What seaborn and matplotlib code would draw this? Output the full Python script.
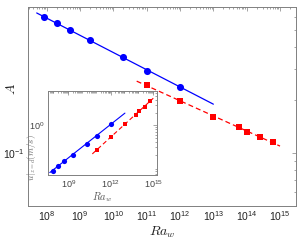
import numpy as np
import pandas as pd
import matplotlib
matplotlib.use('Agg')
import matplotlib.pyplot as plt
import matplotlib.ticker as mticker
import seaborn as sns

# Values
ra_lab = [8e7, 2e8, 5e8, 2e9, 2e10, 1e11, 1e12]
a_lab = [0.60, 0.55, 0.50, 0.44, 0.352, 0.295, 0.239]
u_lab = [0.084, 0.110, 0.141, 0.202, 0.369, 0.562, 1.07]

ra_field = [1e11, 1e12, 1e13, 6e13, 1e14, 2.5e14, 6e14]
a_field = [0.245, 0.198, 0.160, 0.140, 0.132, 0.124, 0.116]
u_field = [0.257, 0.532, 1.09, 1.78, 2.21, 2.80, 3.89]

# range over which the power-law fits are drawn
fit_lab_range = [5e7, 1e13]
fit_field_range = [5e10, 1e15]

main_xticks = [1e8, 1e9, 1e10, 1e11, 1e12, 1e13, 1e14, 1e15]
inset_xticks = [1e9, 1e12, 1e15]

lab = pd.DataFrame({'Ra': ra_lab, 'A': a_lab, 'u': u_lab})
field = pd.DataFrame({'Ra': ra_field, 'A': a_field, 'u': u_field})


def power_fit(x, y, xr):
    p = np.polyfit(np.log10(x), np.log10(y), 1)
    xx = np.logspace(np.log10(xr[0]), np.log10(xr[1]), 50)
    return pd.DataFrame({'Ra': xx, 'fit': 10 ** np.polyval(p, np.log10(xx))})


def style_axes(ax, fs, labcol):
    ax.set_xscale('log')
    ax.set_yscale('log')
    for s in ax.spines.values():
        s.set_color('#808080')
        s.set_linewidth(0.7)
    ax.tick_params(which='both', direction='in', top=True, right=True,
                   colors='#808080', labelcolor=labcol, labelsize=fs, width=0.5, pad=2.5)
    ax.tick_params(which='major', length=3)
    ax.tick_params(which='minor', length=1.5)
    ax.xaxis.set_minor_locator(mticker.LogLocator(base=10, subs=np.arange(2, 10), numticks=30))
    ax.yaxis.set_minor_locator(mticker.LogLocator(base=10, subs=np.arange(2, 10), numticks=30))
    ax.xaxis.set_minor_formatter(mticker.NullFormatter())
    ax.yaxis.set_minor_formatter(mticker.NullFormatter())
    ax.xaxis.set_major_formatter(mticker.LogFormatterSciNotation())
    ax.yaxis.set_major_formatter(mticker.LogFormatterSciNotation())
    ax.grid(False)
    ax.set_facecolor('white')


sns.set_theme(style='white')
plt.rcParams['font.family'] = ['Liberation Sans', 'DejaVu Sans']
plt.rcParams['mathtext.fontset'] = 'cm'

fig = plt.figure(figsize=(2.99, 2.43), dpi=100)
ax = fig.add_axes([0.095, 0.153, 0.895, 0.818])

sns.lineplot(data=power_fit(lab.Ra, lab.A, fit_lab_range), x='Ra', y='fit', ax=ax,
             color='blue', lw=0.9)
sns.lineplot(data=power_fit(field.Ra, field.A, fit_field_range), x='Ra', y='fit', ax=ax,
             color='red', lw=0.9, linestyle=(0, (4, 2.5)))
sns.scatterplot(data=lab, x='Ra', y='A', ax=ax, color='blue', marker='o', s=26,
                edgecolor='blue', linewidth=0, zorder=3)
sns.scatterplot(data=field, x='Ra', y='A', ax=ax, color='red', marker='s', s=16,
                edgecolor='red', linewidth=0, zorder=3)
style_axes(ax, 7.5, '#222222')
ax.set_xlim(10 ** 7.45, 10 ** 15.48)
ax.set_ylim(0.05, 0.68)
ax.xaxis.set_major_locator(mticker.FixedLocator(main_xticks))
ax.yaxis.set_major_locator(mticker.FixedLocator([0.1]))
ax.set_xlabel('$Ra_w$', fontsize=10, color='#222222', labelpad=1)
ax.set_ylabel('$A$', fontsize=10, color='#222222')
ax.yaxis.set_label_coords(-0.04, 0.59)

# inset
ins = fig.add_axes([0.159, 0.28, 0.366, 0.346])
sns.lineplot(data=power_fit(lab.Ra, lab.u, fit_lab_range), x='Ra', y='fit', ax=ins,
             color='blue', lw=0.8)
sns.lineplot(data=power_fit(field.Ra, field.u, fit_field_range), x='Ra', y='fit', ax=ins,
             color='red', lw=0.8, linestyle=(0, (4, 2.5)))
sns.scatterplot(data=lab, x='Ra', y='u', ax=ins, color='blue', marker='o', s=14,
                edgecolor='blue', linewidth=0, zorder=3)
sns.scatterplot(data=field, x='Ra', y='u', ax=ins, color='red', marker='s', s=10,
                edgecolor='red', linewidth=0, zorder=3)
style_axes(ins, 6.5, '#444444')
ins.set_xlim(10 ** 7.54, 10 ** 15.26)
ins.set_ylim(0.066, 6.6)
ins.xaxis.set_major_locator(mticker.FixedLocator(inset_xticks))
ins.yaxis.set_major_locator(mticker.FixedLocator([1.0]))
ins.set_xlabel('$Ra_w$', fontsize=7.5, color='#555555', labelpad=0)
ins.set_ylabel('$u|_{z=d}(m/s)$', fontsize=6.5, color='#666666')
ins.yaxis.set_label_coords(-0.087, 0.21)

fig.savefig('out.png', dpi=100, facecolor='white')
